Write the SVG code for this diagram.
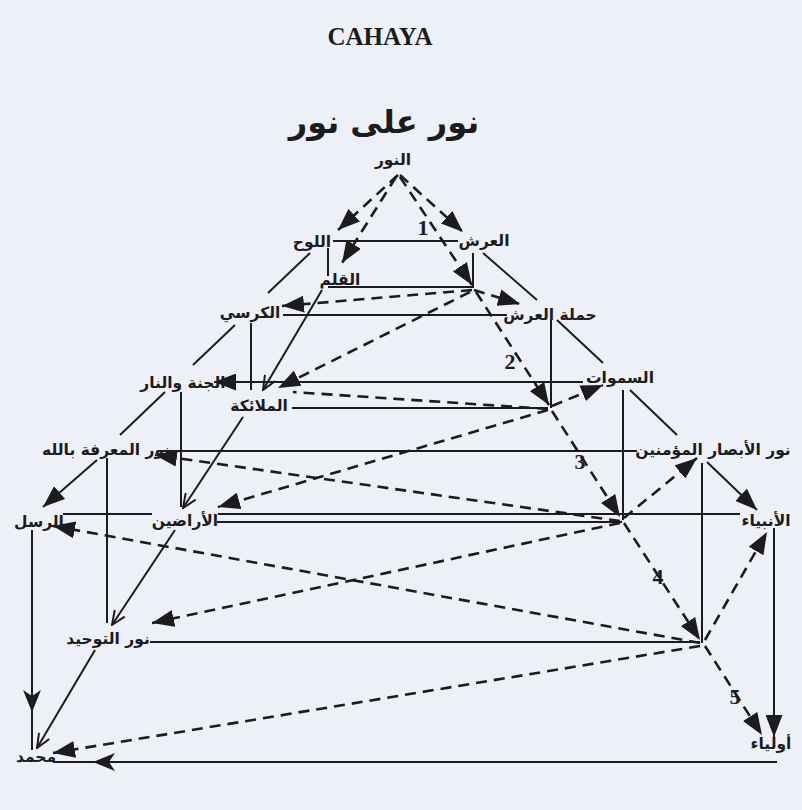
<svg xmlns="http://www.w3.org/2000/svg" width="802" height="810" viewBox="0 0 802 810">
<style>
.s{stroke:#1c1c1c;stroke-width:2;fill:none}
.d{stroke:#1c1c1c;stroke-width:2.6;fill:none;stroke-dasharray:11 7}
.l{font-family:"DejaVu Sans",sans-serif;font-weight:bold;font-size:15.5px;fill:#1c1c1c;text-anchor:middle}
.n{font-family:"Liberation Serif",serif;font-weight:bold;font-size:22px;fill:#1c1c1c;text-anchor:middle}
</style>
<defs>
<marker id="a" viewBox="0 0 22 17" refX="22" refY="8.5" markerWidth="22" markerHeight="17" markerUnits="userSpaceOnUse" orient="auto"><path d="M0,0 L22,8.5 L0,17 z" fill="#1c1c1c"/></marker>
<marker id="o" viewBox="0 0 16 14" refX="15" refY="7" markerWidth="16" markerHeight="14" markerUnits="userSpaceOnUse" orient="auto"><path d="M1,1 L15,7 L1,13" fill="none" stroke="#1c1c1c" stroke-width="2"/></marker>
<marker id="v" viewBox="0 0 22 18" refX="22" refY="9" markerWidth="22" markerHeight="18" markerUnits="userSpaceOnUse" orient="auto"><path d="M0,0 L22,9 L0,18 L6,9 z" fill="#1c1c1c"/></marker>
</defs>
<rect width="802" height="810" fill="#eef0f7"/>
<text x="380" y="45" font-family="Liberation Serif, serif" font-weight="bold" font-size="25" fill="#1c1c1c" text-anchor="middle">CAHAYA</text>
<text x="384" y="133" font-family="DejaVu Sans, sans-serif" font-weight="bold" font-size="32" fill="#1c1c1c" text-anchor="middle">نور على نور</text>
<g id="connectors">
<path class="d" d="M398,175 L338,230" marker-end="url(#a)"/>
<path class="d" d="M396,177 L342,263" marker-end="url(#a)"/>
<path class="d" d="M400,175 L463,232" marker-end="url(#a)"/>
<path class="d" d="M400,177 L472,285" marker-end="url(#a)"/>
<path class="d" d="M472,290 L282,306" marker-end="url(#a)"/>
<path class="d" d="M474,290 L520,304" marker-end="url(#a)"/>
<path class="d" d="M470,292 L278,388" marker-end="url(#a)"/>
<path class="d" d="M476,292 L549,405" marker-end="url(#a)"/>
<path class="d" d="M548,409 L293,392"/>
<path class="d" d="M552,406 L603,385" marker-end="url(#a)"/>
<path class="d" d="M548,410 L218,507" marker-end="url(#a)"/>
<path class="d" d="M552,411 L620,517" marker-end="url(#a)"/>
<path class="d" d="M620,521 L155,455" marker-end="url(#a)"/>
<path class="d" d="M624,518 L697,458" marker-end="url(#a)"/>
<path class="d" d="M624,523 L700,640" marker-end="url(#a)"/>
<path class="d" d="M620,523 L152,623" marker-end="url(#a)"/>
<path class="d" d="M700,643 L53,526" marker-end="url(#a)"/>
<path class="d" d="M705,640 L767,532" marker-end="url(#a)"/>
<path class="d" d="M705,646 L762,735" marker-end="url(#a)"/>
<path class="d" d="M700,646 L53,753" marker-end="url(#a)"/>
<path class="s" d="M333,241 H458"/>
<path class="s" d="M328,248 V276"/>
<path class="s" d="M473,253 V288"/>
<path class="s" d="M328,287 H472"/>
<path class="s" d="M283,315 H507"/>
<path class="s" d="M251,323 V390"/>
<path class="s" d="M551,320 V408"/>
<path class="s" d="M583,382 H214" marker-end="url(#a)"/>
<path class="s" d="M292,408 H548"/>
<path class="s" d="M181,392 V507"/>
<path class="s" d="M623,390 V520"/>
<path class="s" d="M160,451 H637"/>
<path class="s" d="M107,458 V623"/>
<path class="s" d="M702,463 V643"/>
<path class="s" d="M63,514 H152 M218,514 H740"/>
<path class="s" d="M217,522 H622"/>
<path class="s" d="M150,642 H700"/>
<path class="s" d="M32,530 V712" marker-end="url(#v)"/>
<path class="s" d="M32,712 V750"/>
<path class="s" d="M774,528 V737" marker-end="url(#a)"/>
<path class="s" d="M777,762 H93" marker-end="url(#v)"/>
<path class="s" d="M93,762 H53"/>
<path class="s" d="M310,253 L268,293"/>
<path class="s" d="M235,325 L193,365"/>
<path class="s" d="M165,392 L120,435"/>
<path class="s" d="M97,460 L43,507" marker-end="url(#a)"/>
<path class="s" d="M483,253 L537,300"/>
<path class="s" d="M557,320 L603,363"/>
<path class="s" d="M630,390 L677,435"/>
<path class="s" d="M707,462 L757,510" marker-end="url(#a)"/>
<path class="s" d="M322,290 L263,390" marker-end="url(#o)"/>
<path class="s" d="M243,417 L183,508" marker-end="url(#o)"/>
<path class="s" d="M175,530 L112,625" marker-end="url(#o)"/>
<path class="s" d="M95,650 L37,748" marker-end="url(#o)"/>
<text class="n" x="423" y="235">1</text>
<text class="n" x="510" y="369">2</text>
<text class="n" x="580" y="469">3</text>
<text class="n" x="658" y="584">4</text>
<text class="n" x="735" y="704">5</text>
</g>
<g id="nur"><text class="l" x="393" y="165">النور</text></g>
<g id="lauh"><text class="l" x="312" y="247">اللوح</text></g>
<g id="arsy"><text class="l" x="484" y="246">العرش</text></g>
<g id="qalam"><text class="l" x="340" y="285">القلم</text></g>
<g id="kursi"><text class="l" x="250" y="318">الكرسي</text></g>
<g id="hamalah"><text class="l" x="550" y="320">حملة العرش</text></g>
<g id="jannah"><text class="l" x="183" y="388">الجنة والنار</text></g>
<g id="malaikah"><text class="l" x="259" y="411">الملائكة</text></g>
<g id="samawat"><text class="l" x="620" y="383">السموات</text></g>
<g id="marifah"><text class="l" x="106" y="455">نور المعرفة بالله</text></g>
<g id="absar"><text class="l" x="713" y="455">نور الأبصار المؤمنين</text></g>
<g id="rusul"><text class="l" x="39" y="527">الرسل</text></g>
<g id="aradin"><text class="l" x="185" y="526">الأراضين</text></g>
<g id="anbiya"><text class="l" x="766" y="526">الأنبياء</text></g>
<g id="tauhid"><text class="l" x="108" y="644">نور التوحيد</text></g>
<g id="muhammad"><text class="l" x="36" y="762">محمد</text></g>
<g id="auliya"><text class="l" x="771" y="749">أولياء</text></g>
</svg>
